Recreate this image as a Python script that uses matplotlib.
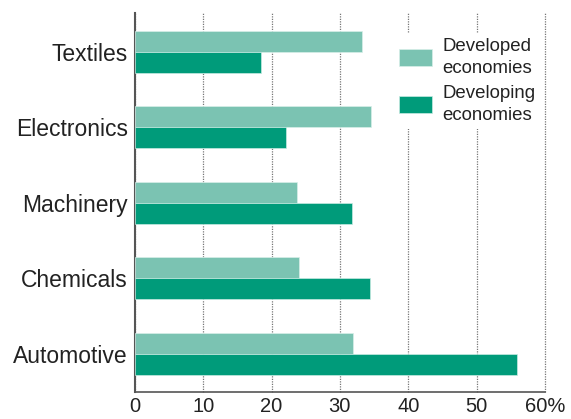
import matplotlib
matplotlib.use("Agg")
import matplotlib.pyplot as plt
import numpy as np

categories = ["Textiles", "Electronics", "Machinery", "Chemicals", "Automotive"]
developed = [33.3, 34.6, 23.7, 24.0, 31.9]
developing = [18.5, 22.1, 31.7, 34.4, 55.9]
xticks = [0, 10, 20, 30, 40, 50, 60]
xticklabels = ["0", "10", "20", "30", "40", "50", "60%"]
series_labels = ["Developed\neconomies", "Developing\neconomies"]

c_light = "#7BC3B2"
c_dark = "#009B7A"

plt.rcParams["font.family"] = ["Liberation Sans", "DejaVu Sans"]

fig = plt.figure(figsize=(5.71, 4.19), dpi=100)
ax = fig.add_axes([0.236, 0.0656, 0.7185, 0.9034])

y = np.arange(len(categories))
h = 0.28
ax.barh(y - h / 2, developed, height=h, color=c_light, edgecolor="#d8efe9",
        linewidth=0.5, label=series_labels[0], zorder=3)
ax.barh(y + h / 2, developing, height=h, color=c_dark, edgecolor="#c8ebe2",
        linewidth=0.5, label=series_labels[1], zorder=3)

ax.set_xlim(0, 60)
ax.set_ylim(4.5, -0.513)
ax.set_xticks(xticks)
ax.set_xticklabels(xticklabels, fontsize=14.5, color="#222222")
ax.set_yticks(y)
ax.set_yticklabels(categories, fontsize=16.5, color="#222222")
ax.tick_params(axis="both", length=0)
ax.tick_params(axis="x", pad=4)
ax.tick_params(axis="y", pad=5)

ax.xaxis.grid(True, linestyle=(0, (1, 1)), color="#777777", linewidth=0.9, zorder=0)
ax.set_axisbelow(True)
for gl in ax.xaxis.get_gridlines():
    gl.set_clip_on(False)

for s in ["top", "right"]:
    ax.spines[s].set_visible(False)
ax.spines["left"].set_color("#555555")
ax.spines["left"].set_linewidth(1.5)
ax.spines["bottom"].set_color("#555555")
ax.spines["bottom"].set_linewidth(1.2)

leg = ax.legend(loc="upper left", bbox_to_anchor=(394 / 571, 1 - 33 / 419),
                bbox_transform=fig.transFigure, fontsize=13.4,
                frameon=True, facecolor="white", edgecolor="none", framealpha=1,
                fancybox=False, handlelength=1.8, handleheight=1.05,
                handletextpad=0.55, labelspacing=0.42, borderpad=0.25,
                borderaxespad=0)
for t in leg.get_texts():
    t.set_color("#222222")
    t.set_linespacing(1.4)
leg.set_zorder(5)

fig.savefig("out.png", dpi=100)
